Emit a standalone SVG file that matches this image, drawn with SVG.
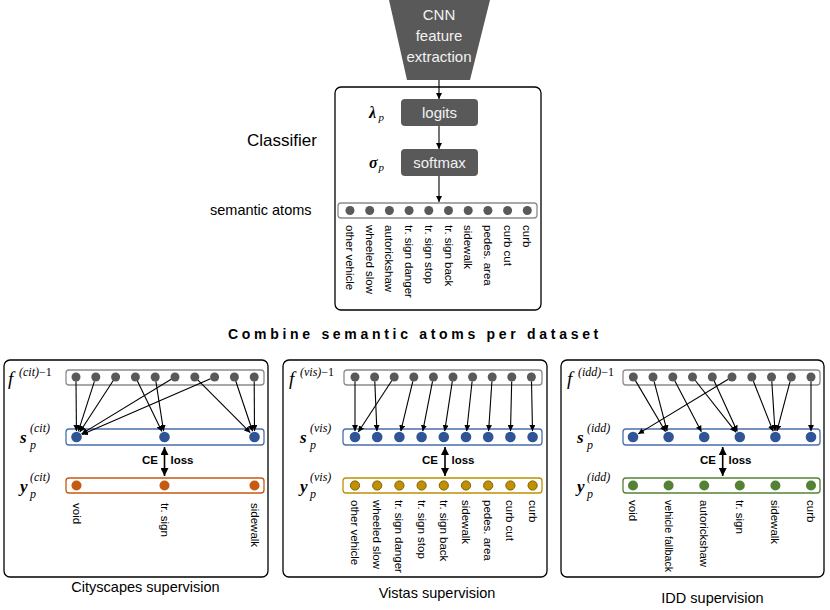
<svg xmlns="http://www.w3.org/2000/svg" width="830" height="610" viewBox="0 0 830 610">
<defs>
<style>
.sans{font-family:"Liberation Sans",Arial,sans-serif;}
.math{font-family:"Liberation Serif","DejaVu Serif",serif;font-style:italic;}
.mb{font-weight:bold;}
.up{font-style:normal;}
.lbl{font-family:"Liberation Sans",Arial,sans-serif;font-size:11.5px;fill:#000;}
.box{fill:#fff;stroke:#000;stroke-width:1.3;}
.gbar{fill:#fff;stroke:#8c8c8c;stroke-width:1.3;}
.bbar{fill:#fff;stroke:#4a6fad;stroke-width:1.3;}
.obar{fill:#fff;stroke:#c55a11;stroke-width:1.3;}
.ybar{fill:#fff;stroke:#bf9000;stroke-width:1.3;}
.vbar{fill:#fff;stroke:#548235;stroke-width:1.3;}
.gd{fill:#595959;}
.bd{fill:#2f5597;}
.od{fill:#c55a11;}
.yd{fill:#bf9000;stroke:#7f6000;stroke-width:1;}
.vd{fill:#548235;}
.dark{fill:#595959;}
.wt{font-family:"Liberation Sans",Arial,sans-serif;fill:#f2f2f2;text-anchor:middle;}
.ln{stroke:#000;stroke-width:1.1;fill:none;marker-end:url(#ah);}
.dbl{stroke:#000;stroke-width:1.6;fill:none;marker-end:url(#ah2);marker-start:url(#ah2);}
</style>
<marker id="ah" viewBox="0 0 10 10" refX="10" refY="5" markerWidth="6" markerHeight="6" markerUnits="userSpaceOnUse" orient="auto-start-reverse"><path d="M0,0 L10,5 L0,10 z" fill="#000"/></marker>
<marker id="ah2" viewBox="0 0 10 10" refX="10" refY="5" markerWidth="8" markerHeight="8" markerUnits="userSpaceOnUse" orient="auto-start-reverse"><path d="M0,0 L10,5 L0,10 z" fill="#000"/></marker>
</defs>

<!-- CNN -->
<g id="cnn">
<polygon class="dark" points="389,0 490,0 470,80 407,80"/>
<text class="wt" x="439" y="20" font-size="15">CNN</text>
<text class="wt" x="439" y="41" font-size="15">feature</text>
<text class="wt" x="439" y="62" font-size="15">extraction</text>
</g>

<!-- classifier -->
<g id="classifier">
<rect class="box" x="335" y="87" width="206" height="223" rx="6"/>
<text class="sans" x="247" y="146" font-size="17">Classifier</text>
</g>
<g id="logits">
<rect class="dark" x="401" y="99" width="77" height="27" rx="4"/>
<text class="wt" x="439.5" y="118" font-size="15">logits</text>
<text class="math mb" x="369" y="118" font-size="16">λ</text><text class="math" x="378.5" y="121" font-size="11">p</text>
</g>
<g id="softmax">
<rect class="dark" x="401" y="149" width="77" height="27" rx="4"/>
<text class="wt" x="439.5" y="168" font-size="15">softmax</text>
<text class="math mb" x="369" y="168" font-size="16">σ</text><text class="math" x="378.5" y="171" font-size="11">p</text>
</g>
<g id="semantic-atoms">
<text class="sans" x="210" y="215" font-size="14.5">semantic atoms</text>
<rect class="gbar" x="338" y="203" width="199" height="15" rx="3"/>
<g class="gd">
<circle cx="350" cy="210.5" r="4.5"/><circle cx="369.7" cy="210.5" r="4.5"/><circle cx="389.4" cy="210.5" r="4.5"/><circle cx="409.1" cy="210.5" r="4.5"/><circle cx="428.8" cy="210.5" r="4.5"/><circle cx="448.5" cy="210.5" r="4.5"/><circle cx="468.2" cy="210.5" r="4.5"/><circle cx="487.9" cy="210.5" r="4.5"/><circle cx="507.6" cy="210.5" r="4.5"/><circle cx="527.3" cy="210.5" r="4.5"/>
</g>
<text class="lbl" transform="translate(346,225) rotate(90)">other vehicle</text>
<text class="lbl" transform="translate(365.7,225) rotate(90)">wheeled slow</text>
<text class="lbl" transform="translate(385.4,225) rotate(90)">autorickshaw</text>
<text class="lbl" transform="translate(405.1,225) rotate(90)">tr. sign danger</text>
<text class="lbl" transform="translate(424.8,225) rotate(90)">tr. sign stop</text>
<text class="lbl" transform="translate(444.5,225) rotate(90)">tr. sign back</text>
<text class="lbl" transform="translate(464.2,225) rotate(90)">sidewalk</text>
<text class="lbl" transform="translate(483.9,225) rotate(90)">pedes. area</text>
<text class="lbl" transform="translate(503.6,225) rotate(90)">curb cut</text>
<text class="lbl" transform="translate(523.3,225) rotate(90)">curb</text>
</g>

<text class="sans" x="415" y="339" font-size="14" font-weight="bold" letter-spacing="3.7" text-anchor="middle">Combine semantic atoms per dataset</text>

<!-- Cityscapes panel -->
<g id="cityscapes">
<rect class="box" x="4" y="360" width="264" height="217" rx="6"/>
<text class="sans" x="145.5" y="592" font-size="14.5" text-anchor="middle">Cityscapes supervision</text>
</g>
<g id="cit-f">
<text class="math" x="8" y="385" font-size="19">f</text><text class="math" x="19" y="376" font-size="12">(cit)<tspan class="up">−1</tspan></text>
<rect class="gbar" x="66" y="370" width="198" height="15" rx="3"/>
<g class="gd">
<circle cx="76" cy="377" r="4.5"/><circle cx="95.8" cy="377" r="4.5"/><circle cx="115.6" cy="377" r="4.5"/><circle cx="135.4" cy="377" r="4.5"/><circle cx="155.2" cy="377" r="4.5"/><circle cx="175" cy="377" r="4.5"/><circle cx="194.8" cy="377" r="4.5"/><circle cx="214.6" cy="377" r="4.5"/><circle cx="234.4" cy="377" r="4.5"/><circle cx="254.2" cy="377" r="4.5"/>
</g>
</g>
<g id="cit-s">
<text class="math mb" x="20" y="443" font-size="17">s</text><text class="math" x="30" y="432" font-size="12">(cit)</text><text class="math" x="30" y="449" font-size="12">p</text>
<rect class="bbar" x="66" y="429" width="198" height="16" rx="3"/>
<g class="bd"><circle cx="76.5" cy="437" r="5.3"/><circle cx="164.5" cy="437" r="5.3"/><circle cx="254.5" cy="437" r="5.3"/></g>
</g>
<g id="cit-y">
<text class="math mb" x="20" y="492" font-size="17">y</text><text class="math" x="30" y="481" font-size="12">(cit)</text><text class="math" x="30" y="498" font-size="12">p</text>
<rect class="obar" x="66" y="478" width="198" height="15" rx="3"/>
<g class="od"><circle cx="76.5" cy="485.5" r="5"/><circle cx="164.5" cy="485.5" r="5"/><circle cx="254.5" cy="485.5" r="5"/></g>
<text class="lbl" transform="translate(72.5,503) rotate(90)">void</text>
<text class="lbl" transform="translate(160.5,503) rotate(90)">tr. sign</text>
<text class="lbl" transform="translate(250.5,503) rotate(90)">sidewalk</text>
<text class="sans" x="150" y="464" font-size="11.5" font-weight="bold" text-anchor="middle">CE</text>
<text class="sans" x="182" y="464" font-size="11.5" font-weight="bold" text-anchor="middle">loss</text>
</g>

<!-- Vistas panel -->
<g id="vistas">
<rect class="box" x="283" y="360" width="264" height="217" rx="6"/>
<text class="sans" x="437" y="598" font-size="14.5" text-anchor="middle">Vistas supervision</text>
</g>
<g id="vis-f">
<text class="math" x="289" y="385" font-size="19">f</text><text class="math" x="300" y="376" font-size="12">(vis)<tspan class="up">−1</tspan></text>
<rect class="gbar" x="344" y="370" width="198" height="15" rx="3"/>
<g class="gd">
<circle cx="355" cy="377" r="4.5"/><circle cx="374.6" cy="377" r="4.5"/><circle cx="394.2" cy="377" r="4.5"/><circle cx="413.8" cy="377" r="4.5"/><circle cx="433.4" cy="377" r="4.5"/><circle cx="453" cy="377" r="4.5"/><circle cx="472.6" cy="377" r="4.5"/><circle cx="492.2" cy="377" r="4.5"/><circle cx="511.8" cy="377" r="4.5"/><circle cx="531.4" cy="377" r="4.5"/>
</g>
</g>
<g id="vis-s">
<text class="math mb" x="300" y="443" font-size="17">s</text><text class="math" x="310" y="432" font-size="12">(vis)</text><text class="math" x="310" y="449" font-size="12">p</text>
<rect class="bbar" x="343" y="429" width="199" height="16" rx="3"/>
<g class="bd"><circle cx="355" cy="437" r="5.3"/><circle cx="377.2" cy="437" r="5.3"/><circle cx="399.4" cy="437" r="5.3"/><circle cx="421.6" cy="437" r="5.3"/><circle cx="443.8" cy="437" r="5.3"/><circle cx="466" cy="437" r="5.3"/><circle cx="488.2" cy="437" r="5.3"/><circle cx="510.4" cy="437" r="5.3"/><circle cx="532.6" cy="437" r="5.3"/></g>
</g>
<g id="vis-y">
<text class="math mb" x="300" y="492" font-size="17">y</text><text class="math" x="310" y="481" font-size="12">(vis)</text><text class="math" x="310" y="498" font-size="12">p</text>
<rect class="ybar" x="343" y="478" width="199" height="15" rx="3"/>
<g class="yd"><circle cx="355" cy="485.5" r="4.6"/><circle cx="377.2" cy="485.5" r="4.6"/><circle cx="399.4" cy="485.5" r="4.6"/><circle cx="421.6" cy="485.5" r="4.6"/><circle cx="443.8" cy="485.5" r="4.6"/><circle cx="466" cy="485.5" r="4.6"/><circle cx="488.2" cy="485.5" r="4.6"/><circle cx="510.4" cy="485.5" r="4.6"/><circle cx="532.6" cy="485.5" r="4.6"/></g>
<text class="lbl" transform="translate(351,500) rotate(90)">other vehicle</text>
<text class="lbl" transform="translate(373.2,500) rotate(90)">wheeled slow</text>
<text class="lbl" transform="translate(395.4,500) rotate(90)">tr. sign danger</text>
<text class="lbl" transform="translate(417.6,500) rotate(90)">tr. sign stop</text>
<text class="lbl" transform="translate(439.8,500) rotate(90)">tr. sign back</text>
<text class="lbl" transform="translate(462,500) rotate(90)">sidewalk</text>
<text class="lbl" transform="translate(484.2,500) rotate(90)">pedes. area</text>
<text class="lbl" transform="translate(506.4,500) rotate(90)">curb cut</text>
<text class="lbl" transform="translate(528.6,500) rotate(90)">curb</text>
<text class="sans" x="430" y="464" font-size="11.5" font-weight="bold" text-anchor="middle">CE</text>
<text class="sans" x="463" y="464" font-size="11.5" font-weight="bold" text-anchor="middle">loss</text>
</g>

<!-- IDD panel -->
<g id="idd">
<rect class="box" x="561" y="360" width="263" height="217" rx="6"/>
<text class="sans" x="712.5" y="603" font-size="14.5" text-anchor="middle">IDD supervision</text>
</g>
<g id="idd-f">
<text class="math" x="567" y="385" font-size="19">f</text><text class="math" x="578" y="376" font-size="12">(idd)<tspan class="up">−1</tspan></text>
<rect class="gbar" x="623" y="370" width="197" height="15" rx="3"/>
<g class="gd">
<circle cx="633.3" cy="377" r="4.5"/><circle cx="653" cy="377" r="4.5"/><circle cx="672.8" cy="377" r="4.5"/><circle cx="692.5" cy="377" r="4.5"/><circle cx="712.3" cy="377" r="4.5"/><circle cx="732" cy="377" r="4.5"/><circle cx="751.8" cy="377" r="4.5"/><circle cx="771.5" cy="377" r="4.5"/><circle cx="791.3" cy="377" r="4.5"/><circle cx="811" cy="377" r="4.5"/>
</g>
</g>
<g id="idd-s">
<text class="math mb" x="577" y="443" font-size="17">s</text><text class="math" x="587" y="432" font-size="12">(idd)</text><text class="math" x="587" y="449" font-size="12">p</text>
<rect class="bbar" x="623" y="429" width="197" height="16" rx="3"/>
<g class="bd"><circle cx="633" cy="437" r="5.3"/><circle cx="668.6" cy="437" r="5.3"/><circle cx="704.2" cy="437" r="5.3"/><circle cx="739.8" cy="437" r="5.3"/><circle cx="775.4" cy="437" r="5.3"/><circle cx="811" cy="437" r="5.3"/></g>
</g>
<g id="idd-y">
<text class="math mb" x="577" y="492" font-size="17">y</text><text class="math" x="587" y="481" font-size="12">(idd)</text><text class="math" x="587" y="498" font-size="12">p</text>
<rect class="vbar" x="623" y="478" width="197" height="15" rx="3"/>
<g class="vd"><circle cx="633" cy="485.5" r="5"/><circle cx="668.6" cy="485.5" r="5"/><circle cx="704.2" cy="485.5" r="5"/><circle cx="739.8" cy="485.5" r="5"/><circle cx="775.4" cy="485.5" r="5"/><circle cx="811" cy="485.5" r="5"/></g>
<text class="lbl" transform="translate(629,500) rotate(90)">void</text>
<text class="lbl" transform="translate(664.6,500) rotate(90)" textLength="72" lengthAdjust="spacingAndGlyphs">vehicle fallback</text>
<text class="lbl" transform="translate(700.2,500) rotate(90)">autorickshaw</text>
<text class="lbl" transform="translate(735.8,500) rotate(90)">tr. sign</text>
<text class="lbl" transform="translate(771.4,500) rotate(90)">sidewalk</text>
<text class="lbl" transform="translate(807,500) rotate(90)">curb</text>
<text class="sans" x="708" y="464" font-size="11.5" font-weight="bold" text-anchor="middle">CE</text>
<text class="sans" x="740" y="464" font-size="11.5" font-weight="bold" text-anchor="middle">loss</text>
</g>

<!-- connectors -->
<g id="connectors">
<line class="ln" x1="439" y1="80" x2="439" y2="99"/>
<line class="ln" x1="439" y1="126" x2="439" y2="149"/>
<line class="ln" x1="439" y1="176" x2="439" y2="202"/>

<line class="ln" x1="76" y1="381.5" x2="76.45" y2="431"/>
<line class="ln" x1="94.4" y1="381.3" x2="78.3" y2="431.3"/>
<line class="ln" x1="113.1" y1="380.8" x2="79.8" y2="432"/>
<line class="ln" x1="171.2" y1="379.3" x2="81.6" y2="433.9"/>
<line class="ln" x1="210.5" y1="378.8" x2="82" y2="434.6"/>
<line class="ln" x1="137.4" y1="381" x2="161.9" y2="431.6"/>
<line class="ln" x1="155.9" y1="381.4" x2="163.6" y2="431.1"/>
<line class="ln" x1="198" y1="380.2" x2="250.3" y2="432.7"/>
<line class="ln" x1="235.8" y1="381.3" x2="252.6" y2="431.3"/>
<line class="ln" x1="254.2" y1="381.5" x2="254.5" y2="431"/>
<line class="dbl" x1="164.5" y1="447" x2="164.5" y2="476"/>

<line class="ln" x1="355" y1="381.5" x2="355" y2="431"/>
<line class="ln" x1="374.8" y1="381.5" x2="376.9" y2="431"/>
<line class="ln" x1="391.7" y1="380.8" x2="358.3" y2="432"/>
<line class="ln" x1="412.8" y1="381.4" x2="400.8" y2="431.2"/>
<line class="ln" x1="432.5" y1="381.4" x2="422.8" y2="431.1"/>
<line class="ln" x1="452.3" y1="381.4" x2="444.7" y2="431.1"/>
<line class="ln" x1="472.1" y1="381.5" x2="466.7" y2="431"/>
<line class="ln" x1="491.9" y1="381.5" x2="488.6" y2="431"/>
<line class="ln" x1="511.7" y1="381.5" x2="510.5" y2="431"/>
<line class="ln" x1="531.5" y1="381.5" x2="532.5" y2="431"/>
<line class="dbl" x1="445" y1="447" x2="445" y2="476"/>

<line class="ln" x1="635.6" y1="380.9" x2="665.6" y2="431.8"/>
<line class="ln" x1="654.1" y1="381.4" x2="667.1" y2="431.2"/>
<line class="ln" x1="674.9" y1="381" x2="701.4" y2="431.7"/>
<line class="ln" x1="695.3" y1="380.5" x2="736.1" y2="432.3"/>
<line class="ln" x1="714.2" y1="381.1" x2="737.3" y2="431.5"/>
<line class="ln" x1="728.2" y1="379.3" x2="638.1" y2="433.9"/>
<line class="ln" x1="753.4" y1="381.2" x2="773.2" y2="431.4"/>
<line class="ln" x1="771.8" y1="381.5" x2="775" y2="431"/>
<line class="ln" x1="790.1" y1="381.3" x2="776.9" y2="431.2"/>
<line class="ln" x1="811" y1="381.5" x2="811" y2="431"/>
<line class="dbl" x1="722.7" y1="447" x2="722.7" y2="476"/>
</g>
</svg>
